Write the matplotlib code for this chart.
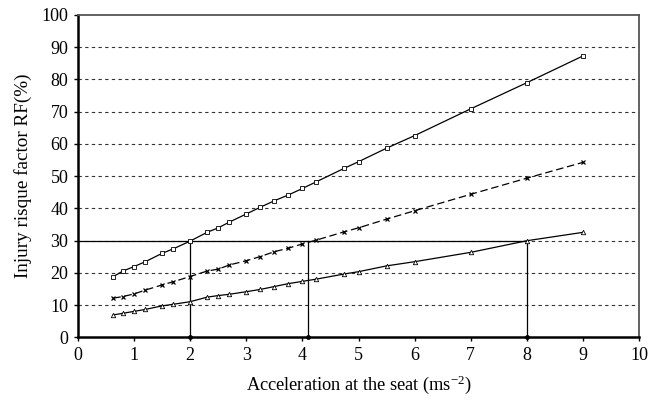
import matplotlib
matplotlib.use("Agg")
import matplotlib.pyplot as plt

# acceleration values (ms-2)
accel = [0.63, 0.8, 1.0, 1.2, 1.5, 1.7, 2.0, 2.3, 2.5, 2.7, 3.0, 3.25, 3.5, 3.75,
         4.0, 4.25, 4.75, 5.0, 5.5, 6.0, 7.0, 8.0, 9.0]
rf_square = [18.9, 20.6, 22.0, 23.5, 26.1, 27.5, 29.9, 32.6, 34.0, 35.8, 38.3, 40.4, 42.4, 44.2,
             46.2, 48.3, 52.5, 54.5, 58.7, 62.6, 70.9, 79.0, 87.3]
rf_cross = [12.2, 12.7, 13.5, 14.7, 16.3, 17.3, 18.9, 20.6, 21.2, 22.5, 23.8, 25.1, 26.6, 27.7,
            29.0, 30.2, 32.8, 34.0, 36.7, 39.3, 44.4, 49.4, 54.3]
rf_triangle = [7.0, 7.5, 8.1, 8.7, 9.8, 10.3, 11.1, 12.5, 13.0, 13.4, 14.2, 14.9, 15.8, 16.7,
               17.4, 18.1, 19.7, 20.4, 22.2, 23.5, 26.4, 30.0, 32.6]

# RF = 30 % threshold and the accelerations where each curve reaches it
rf_limit = 30
limit_accel = [2.0, 4.1, 8.0]

plt.rcParams['font.family'] = ['Liberation Serif', 'DejaVu Serif']
plt.rcParams['mathtext.fontset'] = 'custom'
plt.rcParams['mathtext.rm'] = 'Liberation Serif'
plt.rcParams['mathtext.it'] = 'Liberation Serif:italic'

fig = plt.figure(figsize=(6.49, 4.01), dpi=100)
ax = fig.add_axes([0.1202, 0.1584, 0.8644, 0.8042])

for yv in range(10, 100, 10):
    ax.axhline(yv, color='#333333', lw=0.8, ls=(0, (3, 3)), zorder=1)

ax.plot([0, max(limit_accel)], [rf_limit, rf_limit], color='black', lw=0.9, zorder=2)
for xv in limit_accel:
    ax.plot([xv, xv], [0, rf_limit], color='black', lw=0.9, zorder=2)
    ax.plot([xv], [0], marker='o', ms=2.5, color='black', zorder=4, clip_on=False)

ax.plot(accel, rf_square, color='black', lw=0.9, marker='s', ms=3.0,
        mfc='white', mec='black', mew=0.6, zorder=3)
ax.plot(accel, rf_cross, color='black', lw=0.9, ls=(0, (6, 3)), marker='x', ms=3.0,
        mec='black', mew=0.9, zorder=3)
ax.plot(accel, rf_triangle, color='black', lw=0.9, marker='^', ms=3.2,
        mfc='white', mec='black', mew=0.6, zorder=3)

ax.set_xlim(0, 10)
ax.set_ylim(0, 100)
ax.set_xticks(range(0, 11))
ax.set_yticks(range(0, 101, 10))
ax.tick_params(axis='both', labelsize=13, direction='out', length=3, width=1, pad=4)

ax.spines['left'].set_linewidth(1.8)
ax.spines['bottom'].set_linewidth(1.8)
for s in ('top', 'right'):
    ax.spines[s].set_linewidth(1.3)
    ax.spines[s].set_color('#555555')

ax.set_xlabel('Acceleration at the seat (ms$^{\\mathregular{-2}}$)', fontsize=13.2, labelpad=7)
ax.set_ylabel('Injury risque factor RF(%)', fontsize=13.8, labelpad=7)

fig.savefig('out.png', dpi=100)
